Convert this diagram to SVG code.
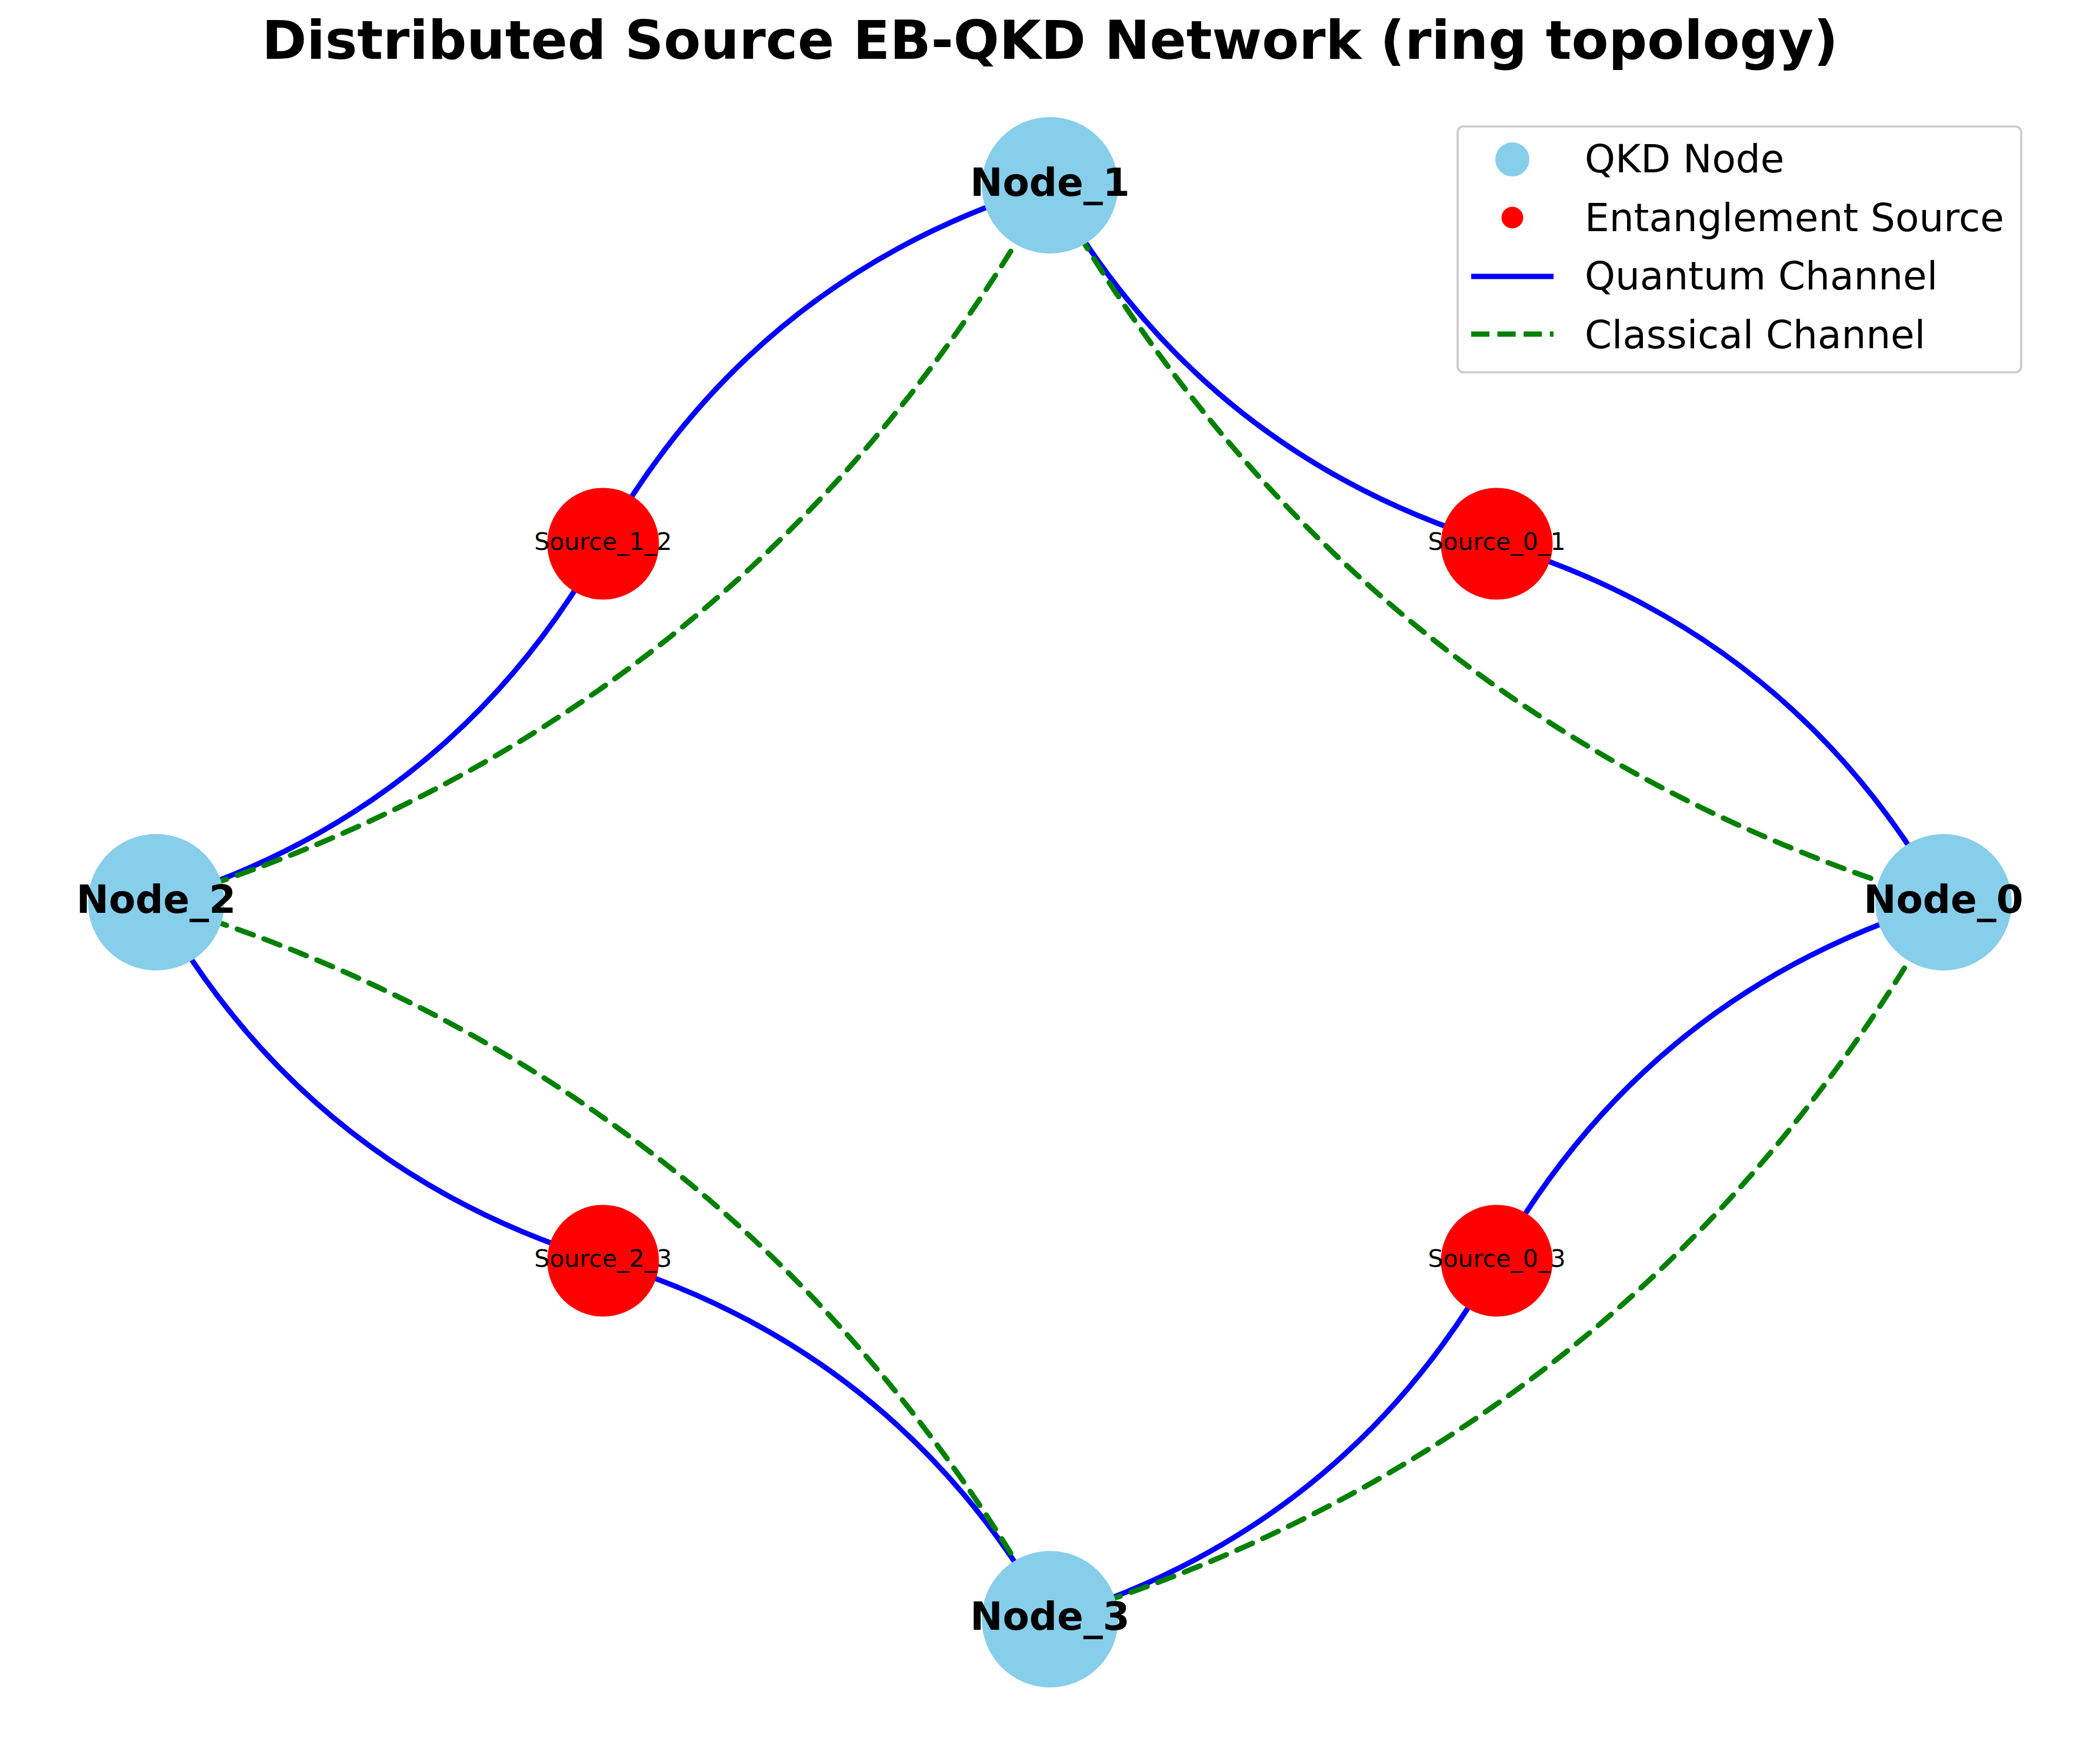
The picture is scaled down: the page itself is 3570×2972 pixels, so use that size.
<svg xmlns="http://www.w3.org/2000/svg" width="3570" height="2972" viewBox="0 0 3570 2972">
<style>
.title{font-family:"DejaVu Sans",sans-serif;font-weight:bold;font-size:91.7px;text-anchor:middle;fill:#000}
.nlabel{font-family:"DejaVu Sans",sans-serif;font-weight:bold;font-size:66px;text-anchor:middle;fill:#000}
.slabel{font-family:"DejaVu Sans",sans-serif;font-size:41px;text-anchor:middle;fill:#000}
.leg{font-family:"DejaVu Sans",sans-serif;font-size:66px;fill:#000}
.q{fill:none;stroke:#0000ff;stroke-width:9}
.c{fill:none;stroke:#008000;stroke-width:9;stroke-dasharray:29 19.4;stroke-linecap:round}
.node{fill:#87ceeb}
.src{fill:#ff0000}
</style>
<rect width="3570" height="2972" fill="#ffffff"/>
<text class="title" x="1785" y="100">Distributed Source EB-QKD Network (ring topology)</text>
<g id="connectors">
<g id="quantum">
<path class="q" d="M1785,315 Q2042.85,771.65 2544.5,924.5"/>
<path class="q" d="M2544.5,924.5 Q3046.15,1077.35 3304,1534"/>
<path class="q" d="M1785,315 Q1283.2,467.8 1025.25,924.5"/>
<path class="q" d="M1025.25,924.5 Q767.3,1381.2 265.5,1534"/>
<path class="q" d="M265.5,1534 Q523.5,1990.7 1025.25,2143.5"/>
<path class="q" d="M1025.25,2143.5 Q1527,2296.3 1785,2753"/>
<path class="q" d="M3304,1534 Q2802.35,1686.85 2544.5,2143.5"/>
<path class="q" d="M2544.5,2143.5 Q2286.65,2600.15 1785,2753"/>
</g>
<g id="classical">
<path class="c" d="M1785,315 Q2300.7,1228.3 3304,1534"/>
<path class="c" d="M265.5,1534 Q1269.05,1228.4 1785,315"/>
<path class="c" d="M265.5,1534 Q1269.05,1839.6 1785,2753"/>
<path class="c" d="M1785,2753 Q2788.3,2447.3 3304,1534"/>
</g>
</g>
<g id="Node_0"><circle class="node" cx="3304" cy="1534" r="116"/><text class="nlabel" x="3304" y="1552">Node_0</text></g>
<g id="Node_1"><circle class="node" cx="1785" cy="315" r="116"/><text class="nlabel" x="1785" y="333">Node_1</text></g>
<g id="Node_2"><circle class="node" cx="265.5" cy="1534" r="116"/><text class="nlabel" x="265.5" y="1552">Node_2</text></g>
<g id="Node_3"><circle class="node" cx="1785" cy="2753" r="116"/><text class="nlabel" x="1785" y="2771">Node_3</text></g>
<g id="Source_0_1"><circle class="src" cx="2544.5" cy="924.5" r="95"/><text class="slabel" x="2544.5" y="935">Source_0_1</text></g>
<g id="Source_1_2"><circle class="src" cx="1025.25" cy="924.5" r="95"/><text class="slabel" x="1025.25" y="935">Source_1_2</text></g>
<g id="Source_2_3"><circle class="src" cx="1025.25" cy="2143.5" r="95"/><text class="slabel" x="1025.25" y="2154">Source_2_3</text></g>
<g id="Source_0_3"><circle class="src" cx="2544.5" cy="2143.5" r="95"/><text class="slabel" x="2544.5" y="2154">Source_0_3</text></g>
<g id="legend">
<rect x="2478" y="215" width="958" height="418" rx="10" ry="10" fill="#ffffff" fill-opacity="0.8" stroke="#cccccc" stroke-width="3.7"/>
<circle cx="2571" cy="271" r="29" fill="#87ceeb"/>
<text class="leg" x="2694" y="293">QKD Node</text>
<circle cx="2571" cy="370" r="18.5" fill="#ff0000"/>
<text class="leg" x="2694" y="393">Entanglement Source</text>
<path d="M2501,470 H2641" stroke="#0000ff" stroke-width="9" fill="none"/>
<text class="leg" x="2694" y="492">Quantum Channel</text>
<path d="M2501,568 H2641" stroke="#008000" stroke-width="9" fill="none" stroke-dasharray="31 13.6"/>
<text class="leg" x="2694" y="592">Classical Channel</text>
</g>
</svg>
